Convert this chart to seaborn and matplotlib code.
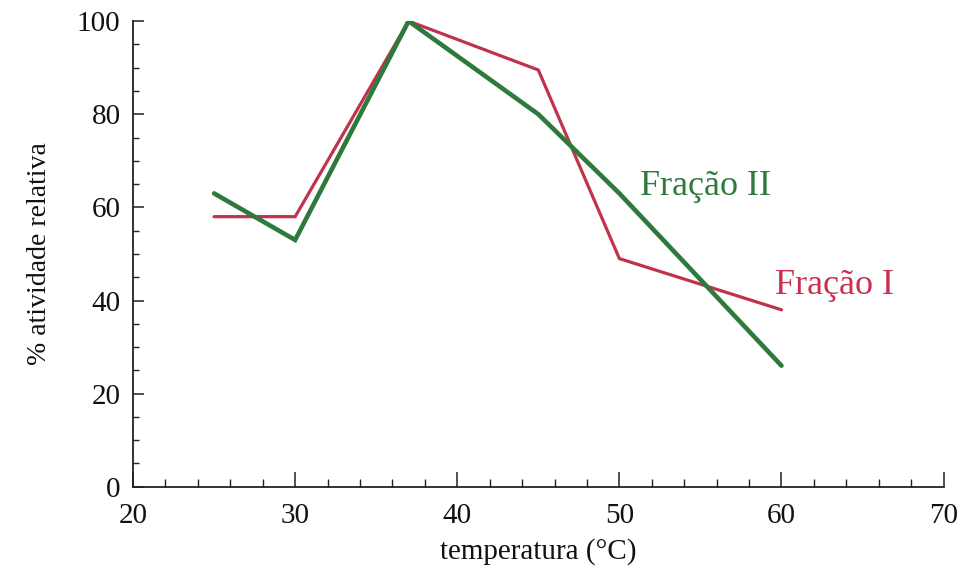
import matplotlib
matplotlib.use("Agg")
import matplotlib.pyplot as plt
from matplotlib.ticker import MultipleLocator
import pandas as pd
import seaborn as sns

# Relative enzyme activity (%) versus temperature for two fractions
temperatura = [25, 30, 37, 45, 50, 60]
fracao_i = [58, 58, 100, 89.5, 49, 38]
fracao_ii = [63, 53, 100, 80, 63, 26]
series_names = ["Fração I", "Fração II"]
series_colors = ["#c0334b", "#2e7a3c"]

df = pd.concat([
    pd.DataFrame({"temperatura": temperatura, "atividade": fracao_i, "serie": series_names[0]}),
    pd.DataFrame({"temperatura": temperatura, "atividade": fracao_ii, "serie": series_names[1]}),
])

sns.set_theme(style="ticks")
plt.rcParams["font.family"] = ["Liberation Serif", "DejaVu Serif"]

fig = plt.figure(figsize=(9.57, 5.70), dpi=100)
ax = fig.add_axes([0.139, 0.146, 0.847, 0.817])

palette = dict(zip(series_names, series_colors))
sns.lineplot(data=df, x="temperatura", y="atividade", hue="serie", palette=palette,
             ax=ax, legend=False, sort=False)
for line, lw in zip(ax.get_lines(), [2.3, 3.3]):
    line.set_linewidth(lw)
    line.set_solid_joinstyle("miter")

ax.set_xlim(20, 70)
ax.set_ylim(0, 100)
ax.xaxis.set_major_locator(MultipleLocator(10))
ax.xaxis.set_minor_locator(MultipleLocator(2))
ax.yaxis.set_major_locator(MultipleLocator(20))
ax.yaxis.set_minor_locator(MultipleLocator(5))

ax.tick_params(axis="x", which="major", direction="in", length=11, width=1.1,
               labelsize=21, pad=12, colors="#222222")
ax.tick_params(axis="x", which="minor", direction="in", length=6, width=1.0, colors="#222222")
ax.tick_params(axis="y", which="major", direction="in", length=8, width=1.1,
               labelsize=21, pad=9, colors="#222222")
ax.tick_params(axis="y", which="minor", direction="in", length=4, width=1.0, colors="#222222")
for lbl in ax.get_xticklabels() + ax.get_yticklabels():
    lbl.set_color("#111111")

sns.despine(ax=ax)
for side in ["left", "bottom"]:
    ax.spines[side].set_linewidth(1.3)
    ax.spines[side].set_color("#222222")

ax.set_xlabel("temperatura (°C)", fontsize=21, color="#111111", labelpad=6)
ax.set_ylabel("% atividade relativa", fontsize=20, color="#111111", labelpad=18)

ax.text(51.3, 64.5, series_names[1], color="#2e7a3c", fontsize=26,
        ha="left", va="center")
ax.text(59.6, 43.3, series_names[0], color="#c8304c", fontsize=26,
        ha="left", va="center")

fig.savefig("out.png", dpi=100, facecolor="white")
